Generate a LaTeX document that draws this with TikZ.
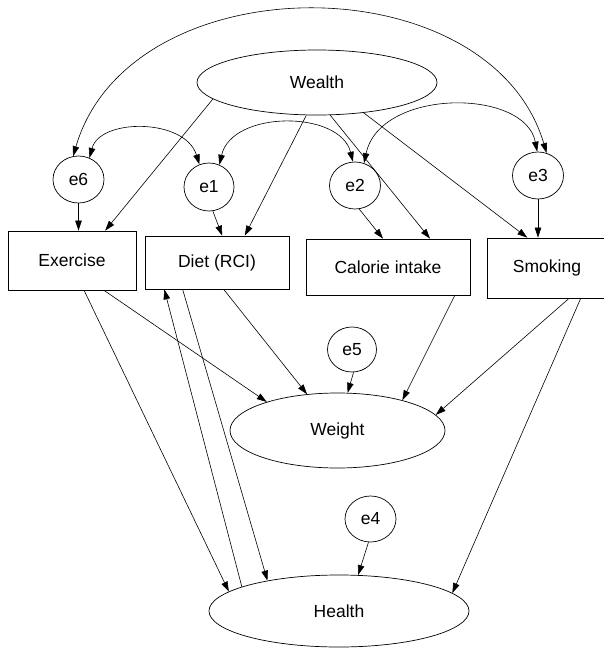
\documentclass[tikz,border=0pt]{standalone}
\usepackage{fontspec}
\setmainfont{Liberation Sans}
\usetikzlibrary{arrows.meta,shapes.geometric}
\begin{document}
\begin{tikzpicture}[x=1pt,y=-1pt,
  every node/.style={font=\fontsize{17.5}{20}\selectfont, inner sep=0pt, line width=0.7pt},
  latent/.style={draw, ellipse},
  errvar/.style={draw, ellipse, minimum width=51, minimum height=47},
  obs/.style={draw, rectangle},
  arr/.style={line width=0.6pt, -{Triangle[length=10pt,width=6.5pt]}},
  cov/.style={line width=0.6pt, {Triangle[length=10pt,width=6.5pt]}-{Triangle[length=10pt,width=6.5pt]}}]
\useasboundingbox (0,0) rectangle (604,648);

% latent variables
\node[latent, minimum width=240, minimum height=65] (W) at (317,82.5) {Wealth};
\node[latent, minimum width=215, minimum height=75] (Wt) at (337.5,430.5) {Weight};
\node[latent, minimum width=260, minimum height=72] (H) at (339,611) {Health};

% error terms
\node[errvar] (e6) at (78.5,179.5) {e6};
\node[errvar, minimum width=50, minimum height=48] (e1) at (209,187) {e1};
\node[errvar] (e2) at (355,185.5) {e2};
\node[errvar] (e3) at (538,175.5) {e3};
\node[errvar, minimum width=49, minimum height=45] (e5) at (352,349.5) {e5};
\node[errvar, minimum height=46] (e4) at (370.5,519) {e4};

% observed variables
\node[obs, minimum width=128, minimum height=59] (Ex) at (72,260.5) {Exercise};
\node[obs, minimum width=144, minimum height=53] (D) at (217,262.5) {Diet (RCI)};
\node[obs, minimum width=164, minimum height=56] (C) at (388,267) {Calorie intake};
\node[obs, minimum width=120, minimum height=60] (S) at (547,268) {Smoking};

% covariances
\draw[cov] (e6.103) .. controls (130,-38) and (490,-38) .. (e3.69);
\draw[cov] (e6.63) .. controls (100,118) and (185,118) .. (e1.113);
\draw[cov] (e1.65) .. controls (232,110) and (340,110) .. (e2.95);
\draw[cov] (e2.68) .. controls (380,88) and (525,88) .. (e3.92);

% Wealth paths
\draw[arr] (W.189.5) -- (Ex.42);
\draw[arr] (W.252) -- (D.44.5);
\draw[arr] (W.292.7) -- (C.34.3);
\draw[arr] (W.327) -- (S.123.7);

% error paths
\draw[arr] (e6.south) -- (e6.south |- Ex.north);
\draw[arr] (e1.279) -- (D.79.3);
\draw[arr] (e2.280) -- (C.100);
\draw[arr] (e3.south) -- (e3.south |- S.north);
\draw[arr] (e5.274) -- (Wt.75);
\draw[arr] (e4.265) -- (H.62);

% to Weight
\draw[arr] (Ex.317.3) -- (Wt.158.5);
\draw[arr] (D.284.8) -- (Wt.130);
\draw[arr] (C.337.9) -- (Wt.25.3);
\draw[arr] (S.306.3) -- (Wt.9.4);

% to Health
\draw[arr] (Ex.292) -- (H.170.4);
\draw[arr] (D.218) -- (H.157.3);
\draw[arr] (H.166) -- (D.207);
\draw[arr] (S.318.6) -- (H.9.7);
\end{tikzpicture}
\end{document}
